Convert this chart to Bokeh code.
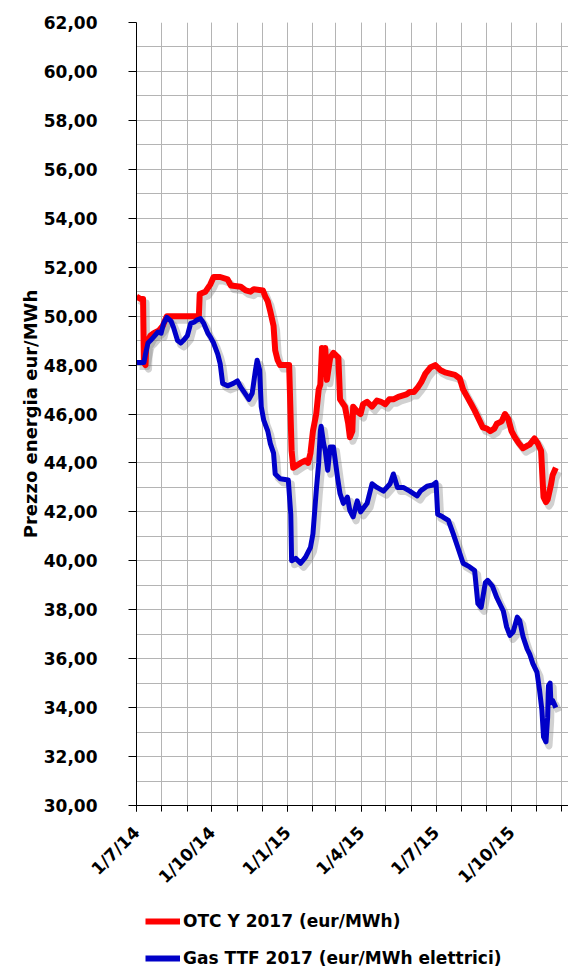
import pandas as pd
from bokeh.plotting import figure
from bokeh.layouts import column
from bokeh.models import (Range1d, FixedTicker, CustomJSTickFormatter, Legend,
                          LegendItem, ColumnDataSource)
from bokeh.transform import dodge
from bokeh.embed import file_html
from bokeh.resources import INLINE

# ---------------- data ----------------
SERIES_RED_NAME = "OTC Y 2017 (eur/MWh)"
SERIES_BLUE_NAME = "Gas TTF 2017 (eur/MWh elettrici)"
Y_LABEL = "Prezzo energia eur/MWh"

RED_DATES = [
    "2014-07-01", "2014-07-06", "2014-07-09", "2014-07-10", "2014-07-12", "2014-07-13",
    "2014-07-15", "2014-07-18", "2014-07-22", "2014-07-28", "2014-08-02", "2014-08-07",
    "2014-09-15", "2014-09-16", "2014-09-23", "2014-09-29", "2014-10-03", "2014-10-11",
    "2014-10-20", "2014-10-24", "2014-11-05", "2014-11-11", "2014-11-17", "2014-11-21",
    "2014-12-02", "2014-12-05", "2014-12-08", "2014-12-11", "2014-12-15", "2014-12-17",
    "2014-12-20", "2014-12-23", "2015-01-03", "2015-01-06", "2015-01-08", "2015-01-17",
    "2015-01-23", "2015-01-26", "2015-01-29", "2015-02-01", "2015-02-05", "2015-02-08",
    "2015-02-10", "2015-02-12", "2015-02-15", "2015-02-16", "2015-02-18", "2015-02-22",
    "2015-02-26", "2015-03-04", "2015-03-06", "2015-03-12", "2015-03-16", "2015-03-18",
    "2015-03-21", "2015-03-22", "2015-03-27", "2015-03-31", "2015-04-03", "2015-04-08",
    "2015-04-14", "2015-04-20", "2015-04-25", "2015-04-30", "2015-05-05", "2015-05-10",
    "2015-05-16", "2015-05-21", "2015-05-26", "2015-05-30", "2015-06-04", "2015-06-09",
    "2015-06-13", "2015-06-18", "2015-06-24", "2015-06-30", "2015-07-06", "2015-07-12",
    "2015-07-18", "2015-07-24", "2015-07-30", "2015-08-03", "2015-08-08", "2015-08-13",
    "2015-08-17", "2015-08-22", "2015-08-27", "2015-09-01", "2015-09-05", "2015-09-10",
    "2015-09-13", "2015-09-19", "2015-09-23", "2015-09-27", "2015-10-01", "2015-10-05",
    "2015-10-10", "2015-10-15", "2015-10-20", "2015-10-23", "2015-10-29", "2015-11-02",
    "2015-11-06", "2015-11-08", "2015-11-09", "2015-11-12", "2015-11-14", "2015-11-18",
    "2015-11-20", "2015-11-24",
]
RED_VALUES = [
    50.8, 50.7, 50.7, 48.1, 48.0, 48.9,
    49.0, 49.2, 49.3, 49.4, 49.6, 50.0,
    50.0, 50.9, 51.0, 51.3, 51.6, 51.6,
    51.5, 51.25, 51.2, 51.05, 51.0, 51.1,
    51.05, 50.8, 50.6, 50.2, 49.6, 48.6,
    48.2, 48.0, 48.0, 44.5, 43.8, 44.0,
    44.1, 44.0, 44.4, 45.3, 46.0, 47.0,
    47.2, 48.7, 48.3, 48.7, 47.4, 48.3,
    48.5, 48.3, 46.6, 46.3, 45.6, 45.05,
    45.3, 46.3, 46.1, 46.0, 46.4, 46.5,
    46.3, 46.55, 46.5, 46.4, 46.6, 46.6,
    46.7, 46.75, 46.8, 46.9, 46.9, 47.1,
    47.3, 47.65, 47.9, 48.0, 47.8, 47.7,
    47.65, 47.6, 47.45, 47.0, 46.7, 46.4,
    46.15, 45.8, 45.45, 45.4, 45.3, 45.4,
    45.6, 45.7, 46.0, 45.8, 45.3, 45.05,
    44.8, 44.6, 44.7, 44.75, 45.0, 44.8,
    44.5, 43.2, 42.6, 42.4, 42.5, 43.1,
    43.5, 43.8,
]

BLUE_DATES = [
    "2014-07-01", "2014-07-10", "2014-07-12", "2014-07-15", "2014-07-18", "2014-07-22",
    "2014-07-27", "2014-07-31", "2014-08-03", "2014-08-07", "2014-08-12", "2014-08-15",
    "2014-08-20", "2014-08-24", "2014-08-27", "2014-09-01", "2014-09-05", "2014-09-09",
    "2014-09-13", "2014-09-17", "2014-09-21", "2014-09-26", "2014-09-29", "2014-10-03",
    "2014-10-08", "2014-10-11", "2014-10-14", "2014-10-20", "2014-10-27", "2014-11-01",
    "2014-11-05", "2014-11-10", "2014-11-15", "2014-11-19", "2014-11-23", "2014-11-25",
    "2014-11-28", "2014-11-30", "2014-12-03", "2014-12-08", "2014-12-11", "2014-12-15",
    "2014-12-17", "2014-12-23", "2015-01-02", "2015-01-05", "2015-01-06", "2015-01-11",
    "2015-01-17", "2015-01-23", "2015-01-29", "2015-02-01", "2015-02-05", "2015-02-08",
    "2015-02-10", "2015-02-11", "2015-02-14", "2015-02-16", "2015-02-19", "2015-02-22",
    "2015-02-26", "2015-03-03", "2015-03-06", "2015-03-10", "2015-03-15", "2015-03-18",
    "2015-03-22", "2015-03-27", "2015-03-31", "2015-04-08", "2015-04-14", "2015-04-20",
    "2015-04-28", "2015-05-06", "2015-05-10", "2015-05-15", "2015-05-22", "2015-05-30",
    "2015-06-08", "2015-06-12", "2015-06-20", "2015-06-27", "2015-07-01", "2015-07-03",
    "2015-07-09", "2015-07-16", "2015-07-22", "2015-07-28", "2015-08-03", "2015-08-11",
    "2015-08-17", "2015-08-21", "2015-08-25", "2015-08-30", "2015-09-02", "2015-09-08",
    "2015-09-13", "2015-09-21", "2015-09-25", "2015-09-29", "2015-10-03", "2015-10-08",
    "2015-10-11", "2015-10-15", "2015-10-20", "2015-10-23", "2015-10-27", "2015-11-01",
    "2015-11-04", "2015-11-07", "2015-11-09", "2015-11-12", "2015-11-14", "2015-11-15",
    "2015-11-17", "2015-11-18", "2015-11-20", "2015-11-24",
]
BLUE_VALUES = [
    48.1, 48.1, 48.45, 48.9, 49.0, 49.15,
    49.35, 49.3, 49.7, 49.95, 49.8, 49.55,
    49.0, 48.9, 49.0, 49.2, 49.7, 49.75,
    49.85, 49.9, 49.7, 49.3, 49.15, 48.9,
    48.45, 48.05, 47.25, 47.15, 47.25, 47.35,
    47.1, 46.85, 46.6, 46.85, 47.8, 48.2,
    47.8, 46.3, 45.75, 45.3, 44.8, 44.4,
    43.55, 43.35, 43.3, 41.9, 40.0, 40.1,
    39.9, 40.15, 40.55, 41.1, 42.85, 44.0,
    45.3, 45.5, 44.8, 44.5, 43.7, 44.65,
    44.65, 43.4, 42.75, 42.35, 42.6, 42.05,
    41.8, 42.45, 42.0, 42.35, 43.15, 43.0,
    42.85, 43.15, 43.55, 43.0, 43.0, 42.85,
    42.65, 42.85, 43.05, 43.1, 43.2, 41.9,
    41.8, 41.65, 41.1, 40.5, 39.9, 39.75,
    39.6, 38.25, 38.1, 39.1, 39.2, 38.95,
    38.5, 37.95, 37.3, 36.95, 37.1, 37.7,
    37.55, 36.9, 36.4, 36.2, 35.8, 35.45,
    34.75, 33.9, 32.8, 32.6, 33.6, 34.9,
    35.0, 34.2, 34.3, 34.0,
]

X_LABEL_DATES = ["2014-07-01", "2014-10-01", "2015-01-01", "2015-04-01", "2015-07-01", "2015-10-01"]
X_START = "2014-07-01"
X_END = "2015-12-09 10:00"
Y_MIN, Y_MAX = 30, 62
Y_TICKS = list(range(30, 63, 2))
Y_MINOR = list(range(30, 63, 1))

# ---------------- style ----------------
FONT = "DejaVu Sans"
RED = "#ff0000"
BLUE = "#0000c8"
GRID = "#b4b4b4"
FRAME_W, FRAME_H = 432, 783


def ms(d):
    return pd.Timestamp(d).value // 10**6


month_ticks = [ms(d) for d in pd.date_range("2014-07-01", "2015-12-01", freq="MS")]
label_ticks = [ms(d) for d in X_LABEL_DATES]

x0, x1 = ms(X_START), ms(X_END)

p = figure(x_axis_type="datetime", output_backend="svg", toolbar_location=None,
           x_range=Range1d(x0, x1), y_range=Range1d(Y_MIN, Y_MAX),
           frame_width=FRAME_W, frame_height=FRAME_H,
           min_border_left=136, min_border_right=0, min_border_top=22, min_border_bottom=95)
p.outline_line_color = None
p.background_fill_color = "white"

red_src = ColumnDataSource(dict(x=pd.to_datetime(RED_DATES), y=RED_VALUES))
blue_src = ColumnDataSource(dict(x=pd.to_datetime(BLUE_DATES), y=BLUE_VALUES))

# drop shadow (offset in pixels converted to data units)
dx = 3 * (x1 - x0) / FRAME_W
dy = -4 * (Y_MAX - Y_MIN) / FRAME_H
for src in (red_src, blue_src):
    p.line(x=dodge("x", dx, range=p.x_range), y=dodge("y", dy, range=p.y_range), source=src,
           line_color="#7a7a7a", line_alpha=0.35, line_width=7, line_join="round")

r_red = p.line("x", "y", source=red_src, line_color=RED, line_width=6, line_join="round")
r_blue = p.line("x", "y", source=blue_src, line_color=BLUE, line_width=5, line_join="round")

# axes
xt = FixedTicker(ticks=label_ticks, minor_ticks=month_ticks)
p.xaxis.ticker = xt
p.xgrid.ticker = xt
p.xaxis.formatter = CustomJSTickFormatter(code="""
const d = new Date(tick);
return d.getUTCDate() + "/" + (d.getUTCMonth() + 1) + "/" + String(d.getUTCFullYear()).slice(2);
""")
p.xaxis.major_label_orientation = 0.785398
p.xaxis.major_tick_out = 6
p.xaxis.major_tick_in = 0
p.xaxis.minor_tick_out = 6
p.xaxis.minor_tick_in = 0
p.xaxis.major_label_standoff = 18

yt = FixedTicker(ticks=Y_TICKS, minor_ticks=Y_MINOR)
p.yaxis.ticker = yt
p.ygrid.ticker = yt
p.yaxis.formatter = CustomJSTickFormatter(code="return tick.toFixed(2).replace('.', ',');")
p.yaxis.major_tick_out = 8
p.yaxis.major_tick_in = 0
p.yaxis.minor_tick_out = 0
p.yaxis.minor_tick_in = 0
p.yaxis.major_label_standoff = 31
p.yaxis.axis_label = Y_LABEL
p.yaxis.axis_label_standoff = 0
p.yaxis.axis_label_text_font = FONT
p.yaxis.axis_label_text_font_style = "bold"
p.yaxis.axis_label_text_font_size = "18px"
p.yaxis.axis_label_text_color = "#000000"

for ax in (p.xaxis, p.yaxis):
    ax.axis_line_color = "#000000"
    ax.major_tick_line_color = "#000000"
    ax.minor_tick_line_color = "#000000"
    ax.major_label_text_font = FONT
    ax.major_label_text_font_style = "bold"
    ax.major_label_text_font_size = "17px"
    ax.major_label_text_color = "#000000"

for g in (p.xgrid, p.ygrid):
    g.grid_line_color = GRID
    g.grid_line_width = 1
    g.minor_grid_line_color = GRID
    g.minor_grid_line_width = 1

# ---------------- legend (own strip under the chart) ----------------
LEG_H = 67
pl = figure(width=568, height=LEG_H, output_backend="svg", toolbar_location=None,
            x_axis_location=None, y_axis_location=None,
            x_range=Range1d(0, 1), y_range=Range1d(0, 1),
            min_border_left=0, min_border_right=0, min_border_top=0, min_border_bottom=0)
pl.outline_line_color = None
pl.xgrid.visible = False
pl.ygrid.visible = False
# same series, out of this strip's view: only their legend swatches are shown
leg_red = pl.line("x", "y", source=red_src, line_color=RED, line_width=6)
leg_blue = pl.line("x", "y", source=blue_src, line_color=BLUE, line_width=6)
legend = Legend(items=[LegendItem(label=SERIES_RED_NAME, renderers=[leg_red]),
                       LegendItem(label=SERIES_BLUE_NAME, renderers=[leg_blue])],
                location=(9, -1), orientation="vertical",
                glyph_width=35, glyph_height=18, label_height=18, spacing=17,
                padding=0, margin=0, label_standoff=3,
                border_line_color=None, background_fill_alpha=0,
                label_text_font=FONT, label_text_font_style="bold",
                label_text_font_size="17px", label_text_color="#000000")
pl.add_layout(legend)

layout = column(p, pl, spacing=0)
open("out.html", "w").write(file_html(layout, INLINE))
